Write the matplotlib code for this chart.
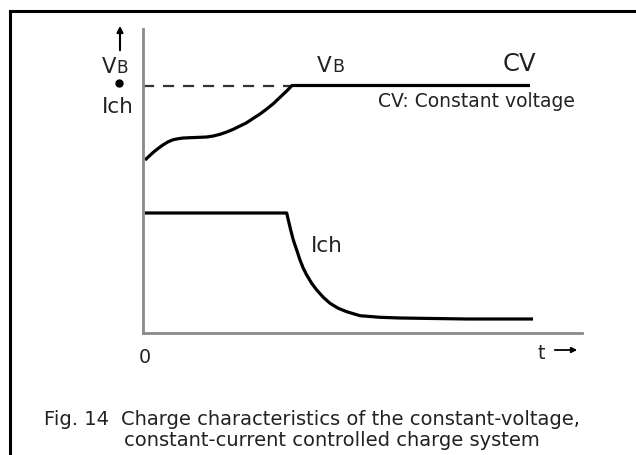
import matplotlib
matplotlib.use("Agg")
import matplotlib.pyplot as plt
from matplotlib.lines import Line2D

plt.rcParams['font.family'] = ['DejaVu Sans']

# Battery voltage curve (arbitrary units)
t_v = [2, 6.3, 10.3, 15.3, 20.3, 25.3, 30.3, 35.3, 40.3, 47, 57, 63.7, 70.3, 77,
       83.7, 90.3, 97, 103.7, 110.3, 117, 123.7, 130.3, 137, 143.7, 149, 387]
v_b = [173, 177, 180.7, 184.7, 188.3, 191.3, 193.3, 194.3, 195, 195.3, 195.7, 196,
       197, 198.7, 201, 203.7, 207, 210.3, 214.7, 219, 224, 229.3, 235.7, 242,
       247.5, 247.5]
cv_level = 247.5
cv_start = 149

# Charge current curve
t_i = [2, 143.7, 145.3, 147.7, 150.3, 153.7, 157, 160.3, 163.7, 168.7, 173.7,
       180.3, 187, 195.3, 203.7, 217, 237, 257, 324, 390]
i_ch = [120, 120, 113, 103, 93, 83, 73, 64.7, 58, 49.7, 43, 35.7, 29.7, 24.7,
        21.3, 17.3, 15.7, 15, 14, 14]

W, H = 636, 455
fig = plt.figure(figsize=(W / 100, H / 100), dpi=100)

def fx(x):
    return x / W

def fy(y):
    return 1 - y / H

ax = fig.add_axes([fx(143), fy(333), fx(582) - fx(143), fy(29) - fy(333)])
ax.set_xlim(0, 439)
ax.set_ylim(0, 304)
for s in ['top', 'right']:
    ax.spines[s].set_visible(False)
for s in ['left', 'bottom']:
    ax.spines[s].set_color('#8a8a8a')
    ax.spines[s].set_linewidth(2.0)
ax.set_xticks([])
ax.set_yticks([])
ax.patch.set_alpha(0)

ax.plot([0, cv_start], [cv_level, cv_level], color='#333333', lw=1.6,
        dashes=(5, 4))
ax.plot(t_v, v_b, color='black', lw=2.3, solid_capstyle='butt', solid_joinstyle='round')
ax.plot(t_i, i_ch, color='black', lw=2.3, solid_capstyle='butt', solid_joinstyle='round')

# Frame (top and left borders)
fig.add_artist(Line2D([fx(10), 1.0], [fy(11), fy(11)], color='black', lw=2.2))
fig.add_artist(Line2D([fx(10), fx(10)], [fy(11), 0.0], color='black', lw=2.2))

tc = '#222222'
def txt(x, y, s, size, ha='left', va='baseline'):
    fig.text(fx(x), fy(y), s, fontsize=size, color=tc, ha=ha, va=va)

# Left axis labels
txt(102, 73, 'V', 15.2)
txt(116.5, 73, 'B', 12.2)
fig.add_artist(Line2D([fx(119)], [fy(83)], marker='o', markersize=5, color='black'))
txt(102, 113, 'Ich', 15.5)
ax.annotate('', xy=(fx(120), fy(23)), xytext=(fx(120), fy(53)),
            xycoords='figure fraction', textcoords='figure fraction',
            arrowprops=dict(arrowstyle='-|>', color='black', lw=1.5,
                            mutation_scale=9))

# Curve labels
txt(317, 72, 'V', 15.5)
txt(332.5, 72, 'B', 12.5)
txt(503, 71, 'CV', 17.5)
txt(378, 107, 'CV: Constant voltage', 13.5)
txt(311, 252, 'Ich', 15.5)

# Axis ticks
txt(145, 363, '0', 13.8, ha='center')
txt(538, 359, 't', 13.8)
ax.annotate('', xy=(fx(580), fy(350)), xytext=(fx(552), fy(350)),
            xycoords='figure fraction', textcoords='figure fraction',
            arrowprops=dict(arrowstyle='-|>', color='black', lw=1.3,
                            mutation_scale=8))

# Caption
txt(44, 425, 'Fig. 14', 14)
txt(121, 425, 'Charge characteristics of the constant-voltage,', 14)
txt(124, 446, 'constant-current controlled charge system', 14)

fig.savefig('out.png', dpi=100)
